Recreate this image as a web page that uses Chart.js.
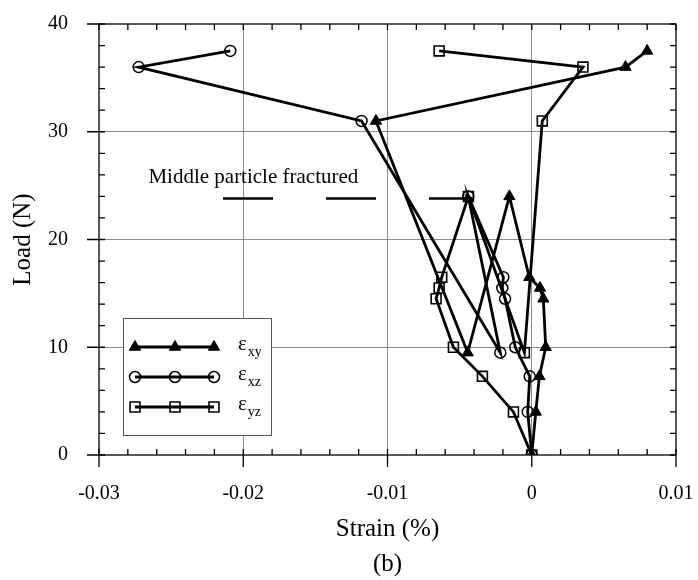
<!DOCTYPE html>
<html>
<head>
<meta charset="utf-8">
<script src="https://cdn.jsdelivr.net/npm/chart.js@4.4.1/dist/chart.umd.min.js"></script>
<style>
  html, body { margin: 0; padding: 0; background: #fff; }
  canvas { display: block; }
</style>
</head>
<body>
<canvas id="strainChart" width="698" height="580"></canvas>
<script>
// load steps, in the order the specimen was loaded
const LOADS = [0, 4, 7.3, 10, 14.5, 15.5, 16.5, 24, 9.5, 31, 36, 37.5];
// strain readings (%) for each load step
const STRAIN_XY = [0, 0.00028, 0.00053, 0.00097, 0.0008, 0.00057, -0.00017, -0.00155, -0.00444, -0.0108, 0.0065, 0.008];
const STRAIN_XZ = [0, -0.00028, -0.00014, -0.00114, -0.00185, -0.00204, -0.00197, -0.0044, -0.00218, -0.0118, -0.02725, -0.0209];
const STRAIN_YZ = [0, -0.00127, -0.00342, -0.00543, -0.00663, -0.00642, -0.00624, -0.00439, -0.00051, 0.00073, 0.00355, -0.00642];

const X_MIN = -0.03, X_MAX = 0.01, X_STEP = 0.01, X_MINOR = 0.002;
const Y_MIN = 0, Y_MAX = 40, Y_STEP = 10, Y_MINOR = 2;

// annotation: dashed pointer to the fracture load
const NOTE_X = [-0.0214, -0.0044];
const NOTE_Y = [23.8, 23.8];
const NOTE_TEXT = 'Middle particle fractured';
const NOTE_POS = { x: -0.0193, y: 25.25 };

const SERIES_SUB = ['xy', 'xz', 'yz'];
const SERIES_STYLE = ['triangle', 'circle', 'rect'];

const FONT = '"Liberation Serif", "Times New Roman", serif';
const GRID = '#8e8e8e';
const NONE = 'rgba(0,0,0,0)';

const pts = (xs) => xs.map((x, i) => ({ x: x, y: LOADS[i] }));

const markerOf = (style) => {
    if (style === 'triangle') return { pointStyle: 'triangle', radius: 6.5, borderWidth: 1, fill: '#000' };
    if (style === 'circle') return { pointStyle: 'circle', radius: 5.5, borderWidth: 1.5, fill: NONE };
    return { pointStyle: 'rect', radius: 7, borderWidth: 1.6, fill: NONE };
};

const seriesDataset = (xs, style) => {
    const m = markerOf(style);
    return {
        data: pts(xs),
        showLine: true,
        tension: 0,
        borderColor: '#000',
        borderWidth: 2.8,
        pointStyle: m.pointStyle,
        pointRadius: m.radius,
        pointBorderWidth: m.borderWidth,
        pointBorderColor: '#000',
        pointBackgroundColor: m.fill
    };
};

// frame + inward minor ticks + outward major ticks
const framePlugin = {
    id: 'frame',
    beforeDatasetsDraw(chart) {
        const { ctx, chartArea: a, scales: { x, y } } = chart;
        ctx.save();
        ctx.strokeStyle = '#000';
        ctx.lineWidth = 1.3;
        ctx.beginPath();
        const nx = Math.round((X_MAX - X_MIN) / X_MINOR);
        for (let k = 0; k <= nx; k++) {
            const px = x.getPixelForValue(X_MIN + k * X_MINOR);
            ctx.moveTo(px, a.bottom); ctx.lineTo(px, a.bottom - 6);
            ctx.moveTo(px, a.top); ctx.lineTo(px, a.top + 6);
            if (k % 5 === 0) { ctx.moveTo(px, a.bottom); ctx.lineTo(px, a.bottom + 12); }
        }
        const ny = Math.round((Y_MAX - Y_MIN) / Y_MINOR);
        for (let k = 0; k <= ny; k++) {
            const py = y.getPixelForValue(Y_MIN + k * Y_MINOR);
            ctx.moveTo(a.left, py); ctx.lineTo(a.left + 6, py);
            ctx.moveTo(a.right, py); ctx.lineTo(a.right - 6, py);
            if (k % 5 === 0) { ctx.moveTo(a.left, py); ctx.lineTo(a.left - 12, py); }
        }
        ctx.stroke();
        ctx.strokeRect(a.left, a.top, a.right - a.left, a.bottom - a.top);
        ctx.restore();
    }
};

// legend box and the fracture note
const notesPlugin = {
    id: 'notes',
    afterDatasetsDraw(chart) {
        const { ctx, scales: { x, y } } = chart;
        ctx.save();
        ctx.fillStyle = '#000';
        ctx.font = '21px ' + FONT;
        ctx.textAlign = 'center';
        ctx.textBaseline = 'alphabetic';
        ctx.fillText(NOTE_TEXT, x.getPixelForValue(NOTE_POS.x), y.getPixelForValue(NOTE_POS.y));

        const box = { left: 123, top: 318, right: 271, bottom: 435 };
        ctx.fillStyle = '#fff';
        ctx.fillRect(box.left, box.top, box.right - box.left, box.bottom - box.top);
        ctx.strokeStyle = '#555';
        ctx.lineWidth = 1;
        ctx.strokeRect(box.left + 0.5, box.top + 0.5, box.right - box.left, box.bottom - box.top);

        const rows = [347, 377, 407];
        const xs = [135, 175, 214];
        rows.forEach((ry, i) => {
            const m = markerOf(SERIES_STYLE[i]);
            ctx.strokeStyle = '#000';
            ctx.lineWidth = 2.8;
            ctx.beginPath();
            ctx.moveTo(xs[0], ry); ctx.lineTo(xs[2], ry);
            ctx.stroke();
            xs.forEach(px => {
                ctx.fillStyle = m.fill;
                ctx.strokeStyle = '#000';
                ctx.lineWidth = m.borderWidth;
                Chart.helpers.drawPoint(ctx, { pointStyle: m.pointStyle, radius: m.radius, borderWidth: m.borderWidth, rotation: 0 }, px, ry);
            });
            ctx.fillStyle = '#000';
            ctx.textAlign = 'left';
            ctx.textBaseline = 'alphabetic';
            ctx.font = '21px ' + FONT;
            ctx.fillText('ε', 238, ry + 3);
            const w = ctx.measureText('ε').width;
            ctx.font = '14px ' + FONT;
            ctx.fillText(SERIES_SUB[i], 238 + w + 1, ry + 9);
        });
        ctx.restore();
    }
};

const fmt = (v) => String(Math.round(v * 100) / 100);

new Chart(document.getElementById('strainChart'), {
    type: 'scatter',
    data: {
        datasets: [
            seriesDataset(STRAIN_XY, 'triangle'),
            seriesDataset(STRAIN_XZ, 'circle'),
            seriesDataset(STRAIN_YZ, 'rect'),
            {
                data: NOTE_X.map((v, i) => ({ x: v, y: NOTE_Y[i] })),
                showLine: true,
                borderColor: '#000',
                borderWidth: 2.5,
                borderDash: [50, 53],
                pointRadius: [0, 5],
                pointStyle: 'triangle',
                pointRotation: 90,
                pointBackgroundColor: '#000',
                pointBorderColor: '#000',
                pointBorderWidth: 1
            }
        ]
    },
    options: {
        responsive: false,
        animation: false,
        devicePixelRatio: 1,
        layout: { padding: { top: 24, right: 22, left: 0, bottom: 0 } },
        plugins: { legend: { display: false }, tooltip: { enabled: false } },
        scales: {
            x: {
                type: 'linear',
                min: X_MIN,
                max: X_MAX,
                afterFit: (s) => { s.height = 125; },
                border: { display: false },
                grid: {
                    drawTicks: true,
                    tickLength: 24,
                    tickColor: NONE,
                    color: (c) => (c.tick && (c.tick.value <= X_MIN + 1e-9 || c.tick.value >= X_MAX - 1e-9)) ? NONE : GRID,
                    lineWidth: 1
                },
                ticks: {
                    stepSize: X_STEP,
                    padding: 3,
                    color: '#000',
                    font: { family: FONT, size: 20 },
                    callback: fmt
                },
                title: {
                    display: true,
                    text: ['Strain (%)', '(b)'],
                    color: '#000',
                    font: { family: FONT, size: 25, lineHeight: 1.4 },
                    padding: { top: 0, bottom: -2 }
                }
            },
            y: {
                type: 'linear',
                min: Y_MIN,
                max: Y_MAX,
                afterFit: (s) => { s.width = 99; },
                border: { display: false },
                grid: {
                    drawTicks: true,
                    tickLength: 28,
                    tickColor: NONE,
                    color: (c) => (c.tick && (c.tick.value <= Y_MIN || c.tick.value >= Y_MAX)) ? NONE : GRID,
                    lineWidth: 1
                },
                ticks: {
                    stepSize: Y_STEP,
                    padding: 3,
                    color: '#000',
                    font: { family: FONT, size: 20 }
                },
                title: {
                    display: true,
                    text: 'Load (N)',
                    color: '#000',
                    font: { family: FONT, size: 25, lineHeight: 1.2 },
                    padding: { top: 8, bottom: 0 }
                }
            }
        }
    },
    plugins: [framePlugin, notesPlugin]
});
</script>
</body>
</html>
